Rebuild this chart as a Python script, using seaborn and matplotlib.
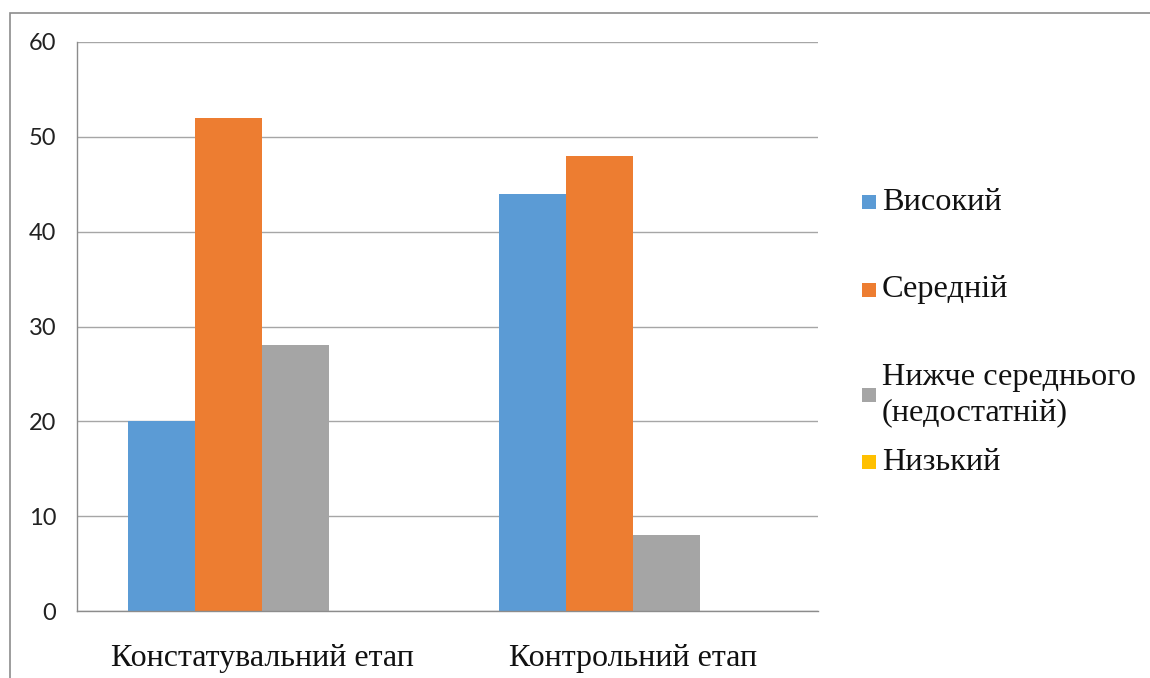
import matplotlib
matplotlib.use("Agg")
import matplotlib.pyplot as plt
from matplotlib.patches import Rectangle
from matplotlib.font_manager import FontProperties
import seaborn as sns
import pandas as pd

stages = ["Констатувальний етап", "Контрольний етап"]
levels = ["Високий", "Середній", "Нижче середнього\n(недостатній)", "Низький"]
high = [20, 44]
medium = [52, 48]
below_medium = [28, 8]
low = [0, 0]
y_ticks = [0, 10, 20, 30, 40, 50, 60]
colors = ["#5B9BD5", "#ED7D31", "#A5A5A5", "#FFC000"]

rows = []
for level, vals in zip(levels, [high, medium, below_medium, low]):
    for stage, v in zip(stages, vals):
        rows.append({"stage": stage, "level": level, "value": v})
df = pd.DataFrame(rows)

sns.set_theme(style="white")
serif = ["Liberation Serif", "DejaVu Serif"]
sans = ["Lato", "Liberation Sans", "DejaVu Sans"]
serif_x = FontProperties(family=serif, size=23)
serif_leg = FontProperties(family=serif, size=23.3)
sans_y = FontProperties(family=sans, size=17)

fig = plt.figure(figsize=(11.5, 6.78), dpi=100)
ax = fig.add_axes([77 / 1150, 1 - 611 / 678, (818 - 77) / 1150, (611 - 42) / 678])

sns.barplot(data=df, x="stage", y="value", hue="level", hue_order=levels,
            order=stages, palette=colors, width=0.724, linewidth=0,
            saturation=1, legend=False, ax=ax)

ax.set_xlim(-0.5, 1.5)
ax.set_ylim(0, 60)
ax.set_yticks(y_ticks)
ax.set_yticklabels([str(t) for t in y_ticks], fontproperties=sans_y,
                   color="#222222")
ax.set_xticks([0, 1])
ax.set_xticklabels(stages, fontproperties=serif_x, color="#111111")
ax.set_xticks([-0.5, 0.5, 1.5], minor=True)
ax.tick_params(axis="x", which="major", length=0, pad=24)
ax.tick_params(axis="x", which="minor", length=6, width=1, color="#8C8C8C",
               direction="out")
ax.tick_params(axis="y", which="major", length=5, width=1, color="#8C8C8C",
               direction="out", pad=10)
ax.set_xlabel("")
ax.set_ylabel("")

ax.yaxis.grid(True, color="#A6A6A6", linewidth=1)
ax.set_axisbelow(True)
for side in ["top", "right"]:
    ax.spines[side].set_visible(False)
for side in ["left", "bottom"]:
    ax.spines[side].set_color("#8C8C8C")
    ax.spines[side].set_linewidth(1)

# Legend entries placed beside the plot area
legend_y = [202, 290, 395, 462]
for level, color, yc in zip(levels, colors, legend_y):
    fig.patches.append(Rectangle((862 / 1150, 1 - (yc + 7) / 678), 14 / 1150, 14 / 678,
                                 transform=fig.transFigure, facecolor=color,
                                 edgecolor="none"))
    fig.text(882 / 1150, 1 - yc / 678, level, fontproperties=serif_leg,
             color="#111111", va="center", ha="left", linespacing=1.3)

# Outer chart frame
fig.patches.append(Rectangle((10 / 1150, -0.05), 1.2, 1 - 13 / 678 + 0.05,
                             transform=fig.transFigure, facecolor="none",
                             edgecolor="#8C8C8C", linewidth=1.2))

fig.savefig("out.png", dpi=100)
